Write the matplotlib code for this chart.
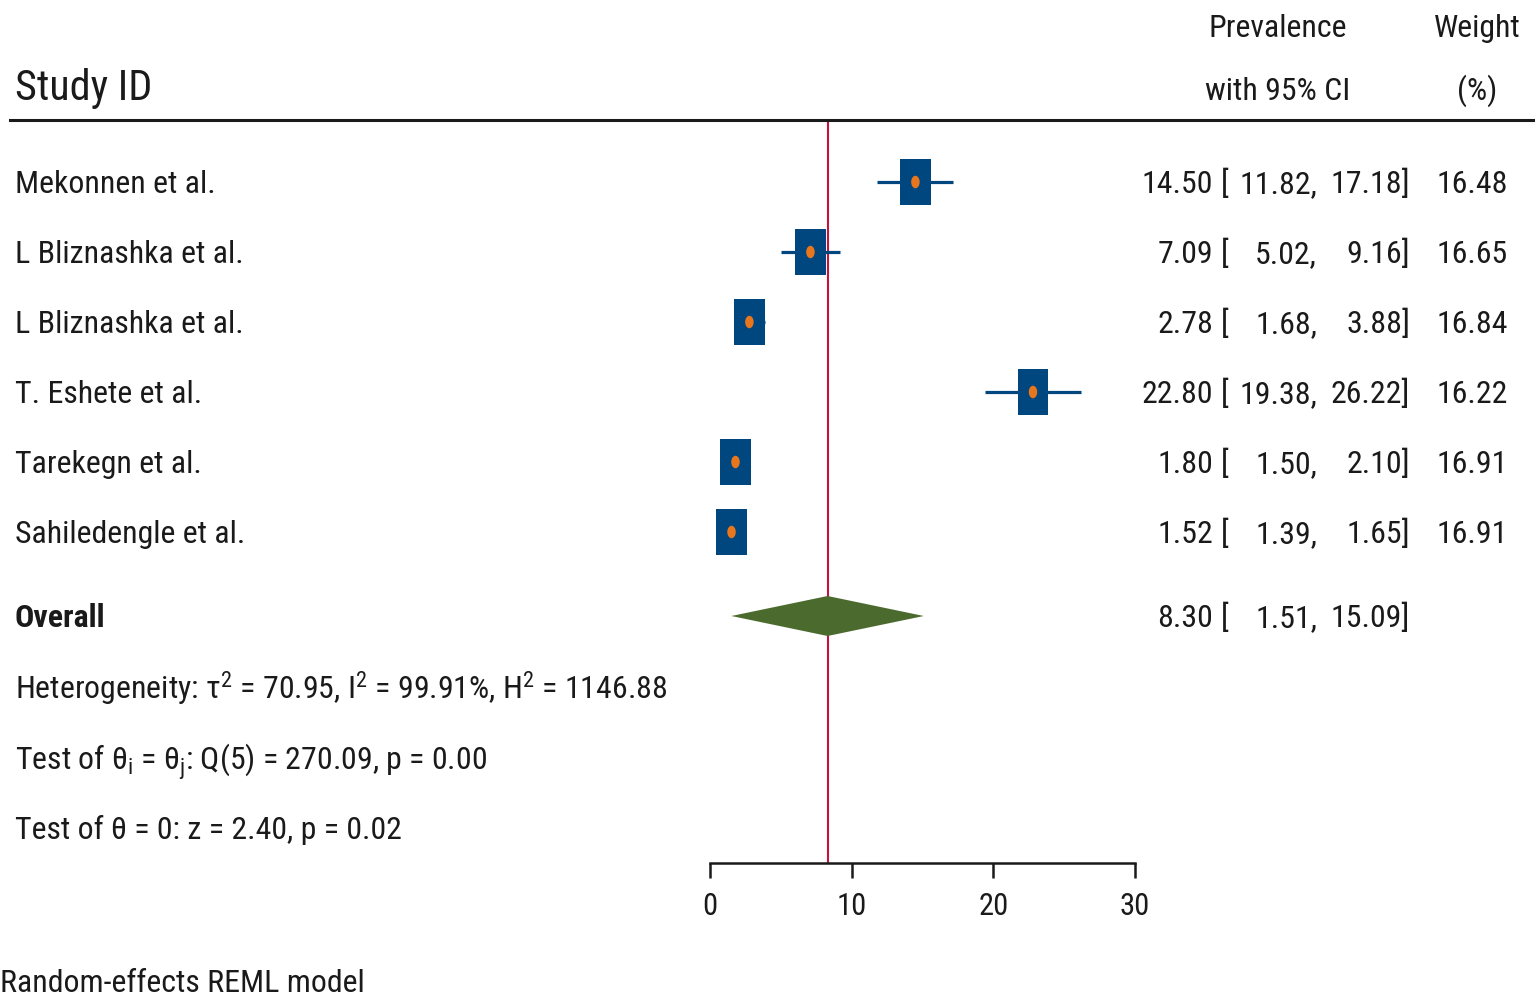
import matplotlib
matplotlib.use("Agg")
import matplotlib.pyplot as plt
from matplotlib import font_manager as fm
from matplotlib.patches import Rectangle, Ellipse, Polygon
from matplotlib.lines import Line2D
from matplotlib.transforms import blended_transform_factory, ScaledTranslation

# ---------------- data ----------------
studies = ["Mekonnen et al.", "L Bliznashka et al.", "L Bliznashka et al.",
           "T. Eshete et al.", "Tarekegn et al.", "Sahiledengle et al."]
estimates = [14.50, 7.09, 2.78, 22.80, 1.80, 1.52]
lower_ci = [11.82, 5.02, 1.68, 19.38, 1.50, 1.39]
upper_ci = [17.18, 9.16, 3.88, 26.22, 2.10, 1.65]
weights = [16.48, 16.65, 16.84, 16.22, 16.91, 16.91]
overall_est, overall_lo, overall_hi = 8.30, 1.51, 15.09
tau2, i2, h2 = 70.95, 99.91, 1146.88
q_stat, q_df, q_p = 270.09, 5, 0.00
z_stat, z_p = 2.40, 0.02
x_ticks = [0, 10, 20, 30]

# ---------------- fonts ----------------
avail = {f.name for f in fm.fontManager.ttflist}
cands = ["Roboto Condensed", "Archivo Narrow", "Barlow Semi Condensed", "Liberation Sans"]
MAIN = next((c for c in cands if c in avail), "DejaVu Sans")
FONT = [MAIN, "DejaVu Sans"]
plt.rcParams["font.family"] = FONT
plt.rcParams["mathtext.fontset"] = "custom"
plt.rcParams["mathtext.rm"] = MAIN
plt.rcParams["mathtext.it"] = MAIN
plt.rcParams["mathtext.bf"] = MAIN + ":bold"

BOX = "#00467F"
DOT = "#E8761C"
DIAM = "#4B6B2E"
REF = "#C4143C"
TXT = "#1a1a1a"

W, H = 1537, 996
fig = plt.figure(figsize=(W / 100, H / 100), dpi=100)
fig.patch.set_facecolor("white")
renderer = fig.canvas.get_renderer()


def fit_size(s, target_px, **kw):
    t = fig.text(0, 0, s, fontsize=10, **kw)
    w = t.get_window_extent(renderer).width
    t.remove()
    return 10 * target_px / w


FS = fit_size("Mekonnen et al.", 200)
SID_FS = fit_size("Study ID", 137)
TICK_FS = fit_size("30", 30)


def fx(px):
    return px / W


def fy(py):
    return 1 - py / H


# forest axes: x 0..30 spans px 710..1135, vertical from header rule (120) to axis (863)
ax = fig.add_axes([fx(710), fy(863), fx(1135) - fx(710), fy(120) - fy(863)])
row_px = 70.0
y_top = (120 - 182) / row_px
y_bot = (863 - 182) / row_px
ax.set_xlim(0, 30)
ax.set_ylim(y_bot, y_top)
for s in ["top", "right", "left"]:
    ax.spines[s].set_visible(False)
ax.spines["bottom"].set_linewidth(1.8)
ax.spines["bottom"].set_color(TXT)
ax.set_yticks([])
ax.set_xticks(x_ticks)
ax.set_xticklabels([str(t) for t in x_ticks])
ax.tick_params(axis="x", length=11, width=1.8, color=TXT, pad=10, labelsize=TICK_FS,
               labelcolor=TXT)
ax.patch.set_visible(False)

rows = list(range(len(studies)))
y_overall = (616 - 182) / row_px
y_stats = [(688 - 182) / row_px, (758 - 182) / row_px, (828 - 182) / row_px]

# reference line at overall estimate
ax.axvline(overall_est, color=REF, lw=1.5, zorder=1)

ux = 30 / 425.0
uy = 1 / row_px
wmax = max(weights)
for y, est, lo, hi, w in zip(rows, estimates, lower_ci, upper_ci, weights):
    ax.plot([lo, hi], [y, y], color=BOX, lw=2.3, solid_capstyle="butt", zorder=2)
    sc = (w / wmax) ** 0.5
    bw, bh = 31 * ux * sc, 46 * uy * sc
    ax.add_patch(Rectangle((est - bw / 2, y - bh / 2), bw, bh, facecolor=BOX,
                           edgecolor="none", zorder=3))
    ax.add_patch(Ellipse((est, y), 8.5 * ux, 12.5 * uy, facecolor=DOT,
                         edgecolor="none", zorder=4))

dh = 20 * uy
ax.add_patch(Polygon([(overall_lo, y_overall), (overall_est, y_overall - dh),
                      (overall_hi, y_overall), (overall_est, y_overall + dh)],
                     closed=True, facecolor=DIAM, edgecolor="none", zorder=3))

# header rule
fig.add_artist(Line2D([fx(10), fx(1533)], [fy(120), fy(120)], transform=fig.transFigure,
                      color=TXT, lw=2.2))

base = blended_transform_factory(fig.transFigure, ax.transData)


def row_tr(fs):
    return base + ScaledTranslation(0, -fs * 0.5 / 100, fig.dpi_scale_trans)


def rtext(px, y, s, ha="left", fs=None, **kw):
    fs = FS if fs is None else fs
    fig.text(fx(px), y, s, ha=ha, va="baseline", fontsize=fs, color=TXT,
             transform=row_tr(fs), **kw)


# headers
fig.text(fx(15), fy(100), "Study ID", ha="left", va="baseline", fontsize=SID_FS, color=TXT)
fig.text(fx(1278), fy(37), "Prevalence", ha="center", va="baseline", fontsize=FS, color=TXT)
fig.text(fx(1278), fy(100), "with 95% CI", ha="center", va="baseline", fontsize=FS, color=TXT)
fig.text(fx(1477), fy(37), "Weight", ha="center", va="baseline", fontsize=FS, color=TXT)
fig.text(fx(1477), fy(100), "(%)", ha="center", va="baseline", fontsize=FS, color=TXT)

# study rows
for y, name, est, lo, hi, w in zip(rows, studies, estimates, lower_ci, upper_ci, weights):
    rtext(15, y, name)
    rtext(1213, y, f"{est:.2f}", ha="right")
    rtext(1221, y, "[")
    rtext(1317, y, f"{lo:.2f},", ha="right")
    rtext(1410, y, f"{hi:.2f}]", ha="right")
    rtext(1508, y, f"{w:.2f}", ha="right")

# overall row
rtext(15, y_overall, "Overall", fontweight="bold")
rtext(1213, y_overall, f"{overall_est:.2f}", ha="right")
rtext(1221, y_overall, "[")
rtext(1317, y_overall, f"{overall_lo:.2f},", ha="right")
rtext(1410, y_overall, f"{overall_hi:.2f}]", ha="right")

# heterogeneity statistics
rtext(15, y_stats[0],
      "Heterogeneity: τ$^{2}$ = " + f"{tau2:.2f}" + ", I$^{2}$ = " + f"{i2:.2f}" +
      "%, H$^{2}$ = " + f"{h2:.2f}")
rtext(15, y_stats[1],
      "Test of θ$_{i}$ = θ$_{j}$: Q(" + f"{q_df}" + ") = " + f"{q_stat:.2f}" +
      ", p = " + f"{q_p:.2f}")
rtext(15, y_stats[2],
      "Test of θ = 0: z = " + f"{z_stat:.2f}" + ", p = " + f"{z_p:.2f}")

# footnote
fig.text(fx(0), fy(992), "Random-effects REML model", ha="left", va="baseline",
         fontsize=FS, color=TXT)

fig.savefig("out.png", dpi=100, facecolor="white")
